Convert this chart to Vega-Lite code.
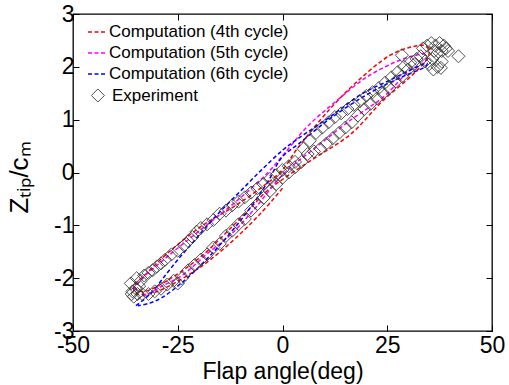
{
  "$schema": "https://vega.github.io/schema/vega-lite/v6.json",
  "width": 419,
  "height": 317,
  "autosize": "none",
  "padding": {"left": 73, "top": 14, "right": 17, "bottom": 54},
  "background": "white",
  "config": {
    "font": "Liberation Sans",
    "view": {"stroke": "black", "strokeWidth": 1.3},
    "axis": {"grid": false, "labelFont": "Liberation Sans", "titleFont": "Liberation Sans", "labelColor": "black", "titleColor": "black", "tickColor": "black", "domain": false, "labelOverlap": false, "labelFlush": false, "titleFontWeight": "normal"}
  },
  "datasets": {
    "comp": [
      {"series": "Computation (4th cycle)", "i": 1, "x": 0, "y": -0.3},
      {"series": "Computation (4th cycle)", "i": 2, "x": -5.3, "y": -0.78},
      {"series": "Computation (4th cycle)", "i": 3, "x": -11.7, "y": -1.28},
      {"series": "Computation (4th cycle)", "i": 4, "x": -19.6, "y": -1.79},
      {"series": "Computation (4th cycle)", "i": 5, "x": -27.6, "y": -2.17},
      {"series": "Computation (4th cycle)", "i": 6, "x": -31.5, "y": -2.29},
      {"series": "Computation (4th cycle)", "i": 7, "x": -34.5, "y": -2.3},
      {"series": "Computation (4th cycle)", "i": 8, "x": -35.5, "y": -2.22},
      {"series": "Computation (4th cycle)", "i": 9, "x": -35, "y": -2.1},
      {"series": "Computation (4th cycle)", "i": 10, "x": -33, "y": -1.95},
      {"series": "Computation (4th cycle)", "i": 11, "x": -27.6, "y": -1.54},
      {"series": "Computation (4th cycle)", "i": 12, "x": -19.6, "y": -1.03},
      {"series": "Computation (4th cycle)", "i": 13, "x": -11.7, "y": -0.65},
      {"series": "Computation (4th cycle)", "i": 14, "x": -5.3, "y": -0.3},
      {"series": "Computation (4th cycle)", "i": 15, "x": 0, "y": 0.05},
      {"series": "Computation (4th cycle)", "i": 16, "x": 3.5, "y": 0.45},
      {"series": "Computation (4th cycle)", "i": 17, "x": 11.3, "y": 1.2},
      {"series": "Computation (4th cycle)", "i": 18, "x": 17.8, "y": 1.72},
      {"series": "Computation (4th cycle)", "i": 19, "x": 25.7, "y": 2.22},
      {"series": "Computation (4th cycle)", "i": 20, "x": 31, "y": 2.38},
      {"series": "Computation (4th cycle)", "i": 21, "x": 34, "y": 2.4},
      {"series": "Computation (4th cycle)", "i": 22, "x": 35, "y": 2.3},
      {"series": "Computation (4th cycle)", "i": 23, "x": 34.5, "y": 2.15},
      {"series": "Computation (4th cycle)", "i": 24, "x": 30.5, "y": 1.81},
      {"series": "Computation (4th cycle)", "i": 25, "x": 24.1, "y": 1.37},
      {"series": "Computation (4th cycle)", "i": 26, "x": 16.2, "y": 0.72},
      {"series": "Computation (4th cycle)", "i": 27, "x": 8.2, "y": 0.3},
      {"series": "Computation (4th cycle)", "i": 28, "x": 1.1, "y": -0.07},
      {"series": "Computation (4th cycle)", "i": 29, "x": -3.7, "y": -0.35},
      {"series": "Computation (4th cycle)", "i": 30, "x": -8, "y": -0.7},
      {"series": "Computation (4th cycle)", "i": 31, "x": -11.7, "y": -1.0},
      {"series": "Computation (4th cycle)", "i": 32, "x": -19.6, "y": -1.6},
      {"series": "Computation (4th cycle)", "i": 33, "x": -27.6, "y": -2.05},
      {"series": "Computation (4th cycle)", "i": 34, "x": -33, "y": -2.25},
      {"series": "Computation (4th cycle)", "i": 35, "x": -35, "y": -2.22},
      {"series": "Computation (5th cycle)", "i": 1, "x": -35.5, "y": -2.23},
      {"series": "Computation (5th cycle)", "i": 2, "x": -33.9, "y": -2.04},
      {"series": "Computation (5th cycle)", "i": 3, "x": -27.6, "y": -1.6},
      {"series": "Computation (5th cycle)", "i": 4, "x": -19.6, "y": -1.09},
      {"series": "Computation (5th cycle)", "i": 5, "x": -11.7, "y": -0.59},
      {"series": "Computation (5th cycle)", "i": 6, "x": -3.7, "y": -0.02},
      {"series": "Computation (5th cycle)", "i": 7, "x": 1.1, "y": 0.42},
      {"series": "Computation (5th cycle)", "i": 8, "x": 5.8, "y": 0.86},
      {"series": "Computation (5th cycle)", "i": 9, "x": 12.2, "y": 1.31},
      {"series": "Computation (5th cycle)", "i": 10, "x": 20.2, "y": 1.81},
      {"series": "Computation (5th cycle)", "i": 11, "x": 28.1, "y": 2.13},
      {"series": "Computation (5th cycle)", "i": 12, "x": 32, "y": 2.22},
      {"series": "Computation (5th cycle)", "i": 13, "x": 33.7, "y": 2.25},
      {"series": "Computation (5th cycle)", "i": 14, "x": 34.3, "y": 2.15},
      {"series": "Computation (5th cycle)", "i": 15, "x": 33.7, "y": 2.08},
      {"series": "Computation (5th cycle)", "i": 16, "x": 30.5, "y": 1.94},
      {"series": "Computation (5th cycle)", "i": 17, "x": 24.1, "y": 1.43},
      {"series": "Computation (5th cycle)", "i": 18, "x": 16.2, "y": 0.99},
      {"series": "Computation (5th cycle)", "i": 19, "x": 8.2, "y": 0.49},
      {"series": "Computation (5th cycle)", "i": 20, "x": 0.3, "y": -0.02},
      {"series": "Computation (5th cycle)", "i": 21, "x": -6.9, "y": -0.71},
      {"series": "Computation (5th cycle)", "i": 22, "x": -12, "y": -1.15},
      {"series": "Computation (5th cycle)", "i": 23, "x": -18, "y": -1.54},
      {"series": "Computation (5th cycle)", "i": 24, "x": -24, "y": -1.95},
      {"series": "Computation (5th cycle)", "i": 25, "x": -29.2, "y": -2.17},
      {"series": "Computation (5th cycle)", "i": 26, "x": -32, "y": -2.3},
      {"series": "Computation (5th cycle)", "i": 27, "x": -34, "y": -2.35},
      {"series": "Computation (6th cycle)", "i": 1, "x": -35, "y": -2.52},
      {"series": "Computation (6th cycle)", "i": 2, "x": -33, "y": -2.4},
      {"series": "Computation (6th cycle)", "i": 3, "x": -31, "y": -2.25},
      {"series": "Computation (6th cycle)", "i": 4, "x": -28, "y": -1.95},
      {"series": "Computation (6th cycle)", "i": 5, "x": -25, "y": -1.65},
      {"series": "Computation (6th cycle)", "i": 6, "x": -22, "y": -1.38},
      {"series": "Computation (6th cycle)", "i": 7, "x": -19, "y": -1.1},
      {"series": "Computation (6th cycle)", "i": 8, "x": -15, "y": -0.75},
      {"series": "Computation (6th cycle)", "i": 9, "x": -10, "y": -0.35},
      {"series": "Computation (6th cycle)", "i": 10, "x": -5, "y": 0.05},
      {"series": "Computation (6th cycle)", "i": 11, "x": 0, "y": 0.42},
      {"series": "Computation (6th cycle)", "i": 12, "x": 3.5, "y": 0.63},
      {"series": "Computation (6th cycle)", "i": 13, "x": 11.3, "y": 1.05},
      {"series": "Computation (6th cycle)", "i": 14, "x": 19.2, "y": 1.5},
      {"series": "Computation (6th cycle)", "i": 15, "x": 25.7, "y": 1.75},
      {"series": "Computation (6th cycle)", "i": 16, "x": 30, "y": 1.92},
      {"series": "Computation (6th cycle)", "i": 17, "x": 34.5, "y": 2.07},
      {"series": "Computation (6th cycle)", "i": 18, "x": 34, "y": 2.0},
      {"series": "Computation (6th cycle)", "i": 19, "x": 30, "y": 1.86},
      {"series": "Computation (6th cycle)", "i": 20, "x": 25, "y": 1.68},
      {"series": "Computation (6th cycle)", "i": 21, "x": 19, "y": 1.42},
      {"series": "Computation (6th cycle)", "i": 22, "x": 11, "y": 1.0},
      {"series": "Computation (6th cycle)", "i": 23, "x": 4, "y": 0.55},
      {"series": "Computation (6th cycle)", "i": 24, "x": 0, "y": 0.3},
      {"series": "Computation (6th cycle)", "i": 25, "x": -3.7, "y": -0.2},
      {"series": "Computation (6th cycle)", "i": 26, "x": -8, "y": -0.7},
      {"series": "Computation (6th cycle)", "i": 27, "x": -12.5, "y": -1.15},
      {"series": "Computation (6th cycle)", "i": 28, "x": -17, "y": -1.55},
      {"series": "Computation (6th cycle)", "i": 29, "x": -21.4, "y": -1.9},
      {"series": "Computation (6th cycle)", "i": 30, "x": -25, "y": -2.15},
      {"series": "Computation (6th cycle)", "i": 31, "x": -29, "y": -2.38},
      {"series": "Computation (6th cycle)", "i": 32, "x": -32, "y": -2.48},
      {"series": "Computation (6th cycle)", "i": 33, "x": -34.5, "y": -2.52}
    ],
    "exp": [
      {"kind": "Experiment", "x": -36.2, "y": -2.1}, {"kind": "Experiment", "x": -35.8, "y": -2.25}, {"kind": "Experiment", "x": -35.5, "y": -2.35}, {"kind": "Experiment", "x": -35, "y": -2.2}, {"kind": "Experiment", "x": -34.6, "y": -2.3}, {"kind": "Experiment", "x": -34.2, "y": -2.15}, {"kind": "Experiment", "x": -33.8, "y": -2.05}, {"kind": "Experiment", "x": -34.8, "y": -2.0}, {"kind": "Experiment", "x": -33.5, "y": -2.3}, {"kind": "Experiment", "x": -36, "y": -2.3},
      {"kind": "Experiment", "x": -33, "y": -1.95}, {"kind": "Experiment", "x": -32, "y": -1.9}, {"kind": "Experiment", "x": -31, "y": -1.85}, {"kind": "Experiment", "x": -30, "y": -1.78}, {"kind": "Experiment", "x": -29, "y": -1.72}, {"kind": "Experiment", "x": -28, "y": -1.65}, {"kind": "Experiment", "x": -26.5, "y": -1.55}, {"kind": "Experiment", "x": -25, "y": -1.48}, {"kind": "Experiment", "x": -23.5, "y": -1.38}, {"kind": "Experiment", "x": -22.5, "y": -1.3}, {"kind": "Experiment", "x": -21.5, "y": -1.22}, {"kind": "Experiment", "x": -20.5, "y": -1.12}, {"kind": "Experiment", "x": -19.5, "y": -1.05}, {"kind": "Experiment", "x": -18, "y": -0.98}, {"kind": "Experiment", "x": -16.5, "y": -0.9}, {"kind": "Experiment", "x": -15, "y": -0.78}, {"kind": "Experiment", "x": -13.5, "y": -0.72}, {"kind": "Experiment", "x": -12, "y": -0.62}, {"kind": "Experiment", "x": -10.5, "y": -0.55}, {"kind": "Experiment", "x": -9, "y": -0.47}, {"kind": "Experiment", "x": -7.5, "y": -0.38}, {"kind": "Experiment", "x": -6, "y": -0.3}, {"kind": "Experiment", "x": -4.5, "y": -0.22}, {"kind": "Experiment", "x": -3, "y": -0.12}, {"kind": "Experiment", "x": -1.5, "y": -0.05}, {"kind": "Experiment", "x": 0, "y": 0.05}, {"kind": "Experiment", "x": 1.5, "y": 0.12}, {"kind": "Experiment", "x": 3, "y": 0.2},
      {"kind": "Experiment", "x": -32, "y": -2.3}, {"kind": "Experiment", "x": -30.5, "y": -2.25}, {"kind": "Experiment", "x": -29, "y": -2.2}, {"kind": "Experiment", "x": -27.5, "y": -2.12}, {"kind": "Experiment", "x": -26, "y": -2.05}, {"kind": "Experiment", "x": -25, "y": -2.1}, {"kind": "Experiment", "x": -24, "y": -2.0}, {"kind": "Experiment", "x": -22.5, "y": -1.85}, {"kind": "Experiment", "x": -21, "y": -1.75}, {"kind": "Experiment", "x": -19.5, "y": -1.65}, {"kind": "Experiment", "x": -18, "y": -1.55}, {"kind": "Experiment", "x": -16.5, "y": -1.42}, {"kind": "Experiment", "x": -15, "y": -1.35}, {"kind": "Experiment", "x": -13.5, "y": -1.2}, {"kind": "Experiment", "x": -12, "y": -1.1}, {"kind": "Experiment", "x": -10.5, "y": -0.98}, {"kind": "Experiment", "x": -9, "y": -0.88}, {"kind": "Experiment", "x": -7.5, "y": -0.72}, {"kind": "Experiment", "x": -6, "y": -0.6}, {"kind": "Experiment", "x": -4.5, "y": -0.48}, {"kind": "Experiment", "x": -3, "y": -0.35}, {"kind": "Experiment", "x": -1.5, "y": -0.22}, {"kind": "Experiment", "x": 0, "y": -0.1}, {"kind": "Experiment", "x": 1.5, "y": 0.0}, {"kind": "Experiment", "x": 3, "y": 0.1},
      {"kind": "Experiment", "x": 4.5, "y": 0.2}, {"kind": "Experiment", "x": 6, "y": 0.35}, {"kind": "Experiment", "x": 7.5, "y": 0.4}, {"kind": "Experiment", "x": 9, "y": 0.45}, {"kind": "Experiment", "x": 10.5, "y": 0.55}, {"kind": "Experiment", "x": 12, "y": 0.65}, {"kind": "Experiment", "x": 13.5, "y": 0.75}, {"kind": "Experiment", "x": 15, "y": 0.85}, {"kind": "Experiment", "x": 16.5, "y": 0.95}, {"kind": "Experiment", "x": 18, "y": 1.08}, {"kind": "Experiment", "x": 19.5, "y": 1.2}, {"kind": "Experiment", "x": 21, "y": 1.3}, {"kind": "Experiment", "x": 22.5, "y": 1.4}, {"kind": "Experiment", "x": 24, "y": 1.5}, {"kind": "Experiment", "x": 25.5, "y": 1.6}, {"kind": "Experiment", "x": 27, "y": 1.72}, {"kind": "Experiment", "x": 28.5, "y": 1.82}, {"kind": "Experiment", "x": 30, "y": 1.95}, {"kind": "Experiment", "x": 31.5, "y": 2.05},
      {"kind": "Experiment", "x": 5, "y": 0.45}, {"kind": "Experiment", "x": 6.5, "y": 0.6}, {"kind": "Experiment", "x": 8, "y": 0.75}, {"kind": "Experiment", "x": 9.5, "y": 0.85}, {"kind": "Experiment", "x": 11, "y": 0.95}, {"kind": "Experiment", "x": 12.5, "y": 1.05}, {"kind": "Experiment", "x": 14, "y": 1.12}, {"kind": "Experiment", "x": 15.5, "y": 1.2}, {"kind": "Experiment", "x": 17, "y": 1.28}, {"kind": "Experiment", "x": 18.5, "y": 1.35}, {"kind": "Experiment", "x": 20, "y": 1.45}, {"kind": "Experiment", "x": 21.5, "y": 1.52}, {"kind": "Experiment", "x": 23, "y": 1.6}, {"kind": "Experiment", "x": 24.5, "y": 1.7}, {"kind": "Experiment", "x": 26, "y": 1.8}, {"kind": "Experiment", "x": 27.5, "y": 1.9}, {"kind": "Experiment", "x": 29, "y": 2.0}, {"kind": "Experiment", "x": 30.5, "y": 2.08}, {"kind": "Experiment", "x": 32, "y": 2.15},
      {"kind": "Experiment", "x": 28.5, "y": 2.22},
      {"kind": "Experiment", "x": 33, "y": 2.2}, {"kind": "Experiment", "x": 33.5, "y": 2.35}, {"kind": "Experiment", "x": 34.5, "y": 2.4}, {"kind": "Experiment", "x": 35.5, "y": 2.45}, {"kind": "Experiment", "x": 36.5, "y": 2.4}, {"kind": "Experiment", "x": 37.5, "y": 2.45}, {"kind": "Experiment", "x": 38.5, "y": 2.4}, {"kind": "Experiment", "x": 39, "y": 2.35}, {"kind": "Experiment", "x": 38, "y": 2.3}, {"kind": "Experiment", "x": 36.8, "y": 2.25}, {"kind": "Experiment", "x": 35.8, "y": 2.15}, {"kind": "Experiment", "x": 35, "y": 2.05}, {"kind": "Experiment", "x": 36, "y": 1.95}, {"kind": "Experiment", "x": 37, "y": 2.0}, {"kind": "Experiment", "x": 38, "y": 2.1}, {"kind": "Experiment", "x": 39.5, "y": 2.3}, {"kind": "Experiment", "x": 42, "y": 2.2}, {"kind": "Experiment", "x": 34, "y": 2.1}, {"kind": "Experiment", "x": 36.2, "y": 2.3}, {"kind": "Experiment", "x": 37.8, "y": 1.98}
    ]
  },
  "resolve": {"axis": {"x": "independent", "y": "independent"}},
  "layer": [
    {
      "data": {"name": "comp"},
      "mark": {"type": "line", "strokeDash": [4, 2.5], "strokeWidth": 1.5, "interpolate": "catmull-rom"},
      "encoding": {
        "x": {"field": "x", "type": "quantitative", "scale": {"domain": [-50, 50], "nice": false, "zero": false},
          "axis": {"orient": "bottom", "values": [-50, -25, 0, 25, 50], "labelExpr": "'' + datum.value", "tickSize": -6, "labelFontSize": 23, "labelPadding": 9, "title": "Flap angle(deg)", "titleFontSize": 23, "titlePadding": 3}},
        "y": {"field": "y", "type": "quantitative", "scale": {"domain": [-3, 3], "nice": false, "zero": false},
          "axis": {"orient": "left", "values": [-3, -2, -1, 0, 1, 2, 3], "labelExpr": "'' + datum.value", "tickSize": -6, "labelFontSize": 23, "labelPadding": 5, "title": "Zₜᵢₚ/cₘ", "titleFontSize": 26, "titleX": -46, "titleY": 163, "titleBaseline": "alphabetic", "titleAlign": "center", "titleAngle": 270}},
        "color": {"field": "series", "type": "nominal",
          "scale": {"domain": ["Computation (4th cycle)", "Computation (5th cycle)", "Computation (6th cycle)"], "range": ["#ff0000", "#ff00ff", "#0000ff"]},
          "legend": {"title": null, "orient": "none", "legendX": 14, "legendY": 7.5, "padding": 0, "rowPadding": 2, "symbolType": "stroke", "symbolDash": [4, 2.5], "symbolStrokeWidth": 1.5, "symbolSize": 360, "labelFontSize": 17, "labelLimit": 0, "labelFont": "Liberation Sans", "labelColor": "black", "labelOffset": 1}},
        "order": {"field": "i", "type": "quantitative"}
      }
    },
    {
      "data": {"name": "exp"},
      "mark": {"type": "point", "filled": false, "stroke": "#333333", "strokeWidth": 1, "opacity": 0.85, "size": 170},
      "encoding": {
        "x": {"field": "x", "type": "quantitative", "axis": {"orient": "top", "values": [-50, -25, 0, 25, 50], "tickSize": -6, "labels": false, "title": null}},
        "y": {"field": "y", "type": "quantitative", "axis": {"orient": "right", "values": [-3, -2, -1, 0, 1, 2, 3], "tickSize": -6, "labels": false, "title": null}},
        "shape": {"field": "kind", "type": "nominal", "scale": {"domain": ["Experiment"], "range": ["diamond"]},
          "legend": {"title": null, "orient": "none", "legendX": 16.4, "legendY": 73, "padding": 0, "symbolSize": 170, "symbolStrokeColor": "#333333", "symbolFillColor": "transparent", "symbolStrokeWidth": 1, "labelFontSize": 17, "labelLimit": 0, "labelFont": "Liberation Sans", "labelColor": "black", "labelOffset": 5.5}}
      }
    }
  ]
}
